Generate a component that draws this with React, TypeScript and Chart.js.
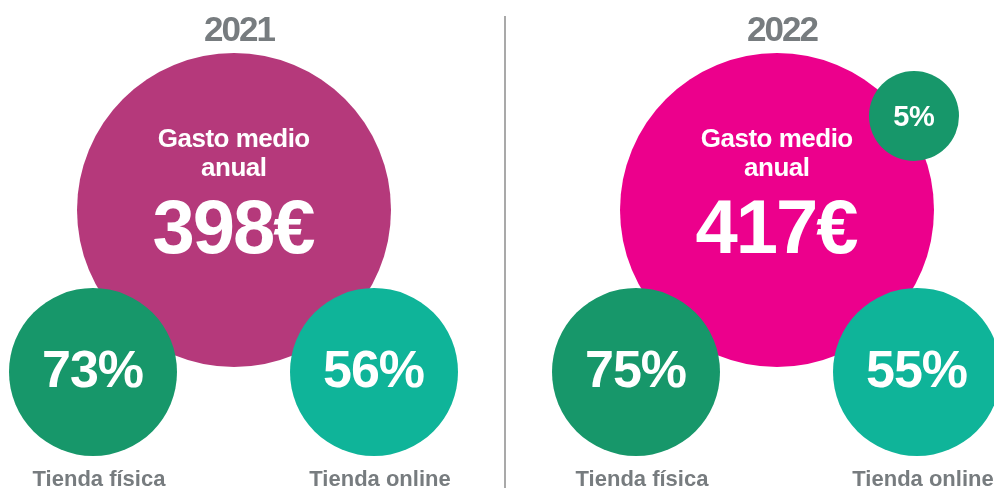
import React, { useEffect, useRef } from "react";
import { Chart, registerables } from "chart.js";

Chart.register(...registerables);

// ---- data ----
const years = ["2021", "2022"];
const gastoMedio = [398, 417];
const tiendaFisica = [73, 75];
const tiendaOnline = [56, 55];
const otroCanal: (number | null)[] = [null, 5];
const bottomLabels = ["Tienda física", "Tienda online"];
const centerLabel = ["Gasto medio", "anual"];

// ---- layout (scale units) ----
const groupX = [234, 777];
const mainY = 210;
const smallY = 372;
const fisicaDX = -141;
const onlineDX = 140;
const otroDX = 137;
const otroDY = -94;
const dividerX = 505;
const R_BIG = 157;
const R_SMALL = 84;
const R_TINY = 45;

// ---- styles ----
const mainColors = ["#b5397b", "#ec008c"];
const fisicaColor = "#17976a";
const onlineColor = "#0fb499";
const greyText = "#777c7f";
const FONT = '"Liberation Sans", Arial, Helvetica, sans-serif';

function drawText(
  ctx: CanvasRenderingContext2D,
  text: string,
  x: number,
  y: number,
  size: number,
  color: string,
  spacing: number
) {
  ctx.save();
  ctx.font = `bold ${size}px ${FONT}`;
  ctx.fillStyle = color;
  ctx.textBaseline = "alphabetic";
  (ctx as any).letterSpacing = `${spacing}px`;
  const w = ctx.measureText(text).width;
  ctx.textAlign = "left";
  ctx.fillText(text, x - (w - spacing) / 2, y);
  ctx.restore();
}

const labelsPlugin = {
  id: "infoLabels",
  afterDatasetsDraw(chart: any) {
    const ctx: CanvasRenderingContext2D = chart.ctx;
    const xs = chart.scales.x;
    const ys = chart.scales.y;

    // divider
    ctx.save();
    ctx.strokeStyle = "#8c8c8c";
    ctx.lineWidth = 1.5;
    ctx.beginPath();
    ctx.moveTo(xs.getPixelForValue(dividerX), ys.getPixelForValue(16));
    ctx.lineTo(xs.getPixelForValue(dividerX), ys.getPixelForValue(488));
    ctx.stroke();
    ctx.restore();

    chart.data.datasets.forEach((ds: any, di: number) => {
      const meta = chart.getDatasetMeta(di);
      meta.data.forEach((el: any, i: number) => {
        const raw = ds.data[i];
        const kind = ds.kind;
        if (kind === "main") {
          drawText(ctx, centerLabel[0], el.x, el.y - 63, 26, "#ffffff", -0.5);
          drawText(ctx, centerLabel[1], el.x, el.y - 34, 26, "#ffffff", -0.5);
          drawText(ctx, `${raw.v}€`, el.x, el.y + 43, 76, "#ffffff", -2);
        } else if (kind === "small") {
          drawText(ctx, `${raw.v}%`, el.x, el.y + 15, 52, "#ffffff", -1);
          drawText(ctx, ds.bottomLabel, el.x + 6, ys.getPixelForValue(486), 22, greyText, 0);
        } else if (kind === "tiny") {
          drawText(ctx, `${raw.v}%`, el.x, el.y + 10, 29, "#ffffff", -0.5);
        }
      });
    });

    // years
    years.forEach((yr, i) => {
      drawText(ctx, yr, xs.getPixelForValue(groupX[i]) + 6, ys.getPixelForValue(41), 35, greyText, -2);
    });
  },
};

export default function App() {
  const ref = useRef<HTMLCanvasElement | null>(null);

  useEffect(() => {
    if (!ref.current) return;

    const mainData = years.map((_, i) => ({ x: groupX[i], y: mainY, r: R_BIG, v: gastoMedio[i] }));
    const fisicaData = years.map((_, i) => ({ x: groupX[i] + fisicaDX, y: smallY, r: R_SMALL, v: tiendaFisica[i] }));
    const onlineData = years.map((_, i) => ({ x: groupX[i] + onlineDX, y: smallY, r: R_SMALL, v: tiendaOnline[i] }));
    const otroData = years
      .map((_, i) => (otroCanal[i] == null ? null : { x: groupX[i] + otroDX, y: mainY + otroDY, r: R_TINY, v: otroCanal[i] }))
      .filter((d) => d !== null);

    const chart = new Chart(ref.current, {
      type: "bubble",
      data: {
        datasets: [
          {
            label: "Gasto medio anual",
            kind: "main",
            data: mainData,
            backgroundColor: mainColors,
            hoverBackgroundColor: mainColors,
            borderWidth: 0,
            order: 3,
            clip: false,
          } as any,
          {
            label: bottomLabels[0],
            kind: "small",
            bottomLabel: bottomLabels[0],
            data: fisicaData,
            backgroundColor: fisicaColor,
            borderWidth: 0,
            order: 2,
            clip: false,
          } as any,
          {
            label: bottomLabels[1],
            kind: "small",
            bottomLabel: bottomLabels[1],
            data: onlineData,
            backgroundColor: onlineColor,
            borderWidth: 0,
            order: 2,
            clip: false,
          } as any,
          {
            label: "Otro",
            kind: "tiny",
            data: otroData,
            backgroundColor: fisicaColor,
            borderWidth: 0,
            order: 1,
            clip: false,
          } as any,
        ],
      },
      options: {
        responsive: false,
        animation: false,
        events: [],
        layout: { padding: 0, autoPadding: false },
        plugins: { legend: { display: false }, tooltip: { enabled: false } },
        scales: {
          x: { type: "linear", min: 0, max: 994, display: false },
          y: { type: "linear", min: 0, max: 488, reverse: true, display: false },
        },
      } as any,
      plugins: [labelsPlugin],
    });

    return () => chart.destroy();
  }, []);

  return (
    <div style={{ position: "absolute", left: 0, top: 0, width: 994, height: 488, background: "#ffffff" }}>
      <canvas ref={ref} width={994} height={488} style={{ width: 994, height: 488, display: "block" }} />
    </div>
  );
}
